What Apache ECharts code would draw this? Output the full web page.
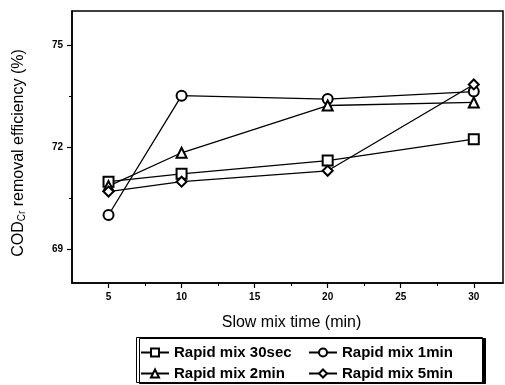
<!DOCTYPE html>
<html>
<head>
<meta charset="utf-8">
<script src="https://cdn.jsdelivr.net/npm/echarts@6/dist/echarts.min.js"></script>
<style>
  html, body { margin: 0; padding: 0; background: #fff; }
  #chart { width: 505px; height: 385px; }
</style>
</head>
<body>
<div id="chart"></div>
<script>
const chart = echarts.init(document.getElementById("chart"), null, { renderer: "canvas" });

const slowMix = [5, 10, 20, 30];
const mix30sec = [70.98, 71.21, 71.6, 72.23];
const mix1min = [70.0, 73.51, 73.41, 73.63];
const mix2min = [70.85, 71.83, 73.22, 73.31];
const mix5min = [70.69, 70.98, 71.3, 73.84];

const xLabels = [5, 10, 15, 20, 25, 30];
const xMinor = [7.5, 12.5, 17.5, 22.5, 27.5];
const yLabels = [69, 72, 75];
const yMinor = [70.5, 73.5];

const font = "Liberation Sans";

function pairs(ys) {
  return slowMix.map((x, i) => [x, ys[i]]);
}

function makeSeries(name, symbol, ys) {
  return {
    name: name,
    type: "line",
    data: pairs(ys),
    symbol: symbol,
    symbolSize: 10,
    showSymbol: true,
    lineStyle: { color: "#000", width: 1.3 },
    itemStyle: { color: "#000", borderColor: "#000", borderWidth: 1.3 },
    z: 3,
  };
}

function makeLegend(left, names) {
  return {
    left: left,
    top: 345,
    orient: "vertical",
    itemWidth: 28,
    itemHeight: 10,
    itemGap: 6,
    padding: 0,
    z: 6,
    textStyle: { fontFamily: font, fontWeight: "bold", fontSize: 15, color: "#000" },
    data: names,
  };
}

const option = {
  backgroundColor: "#fff",
  animation: false,
  grid: {
    left: 72,
    top: 11,
    right: 2,
    bottom: 102,
    show: true,
    borderColor: "#000",
    borderWidth: 1.5,
  },
  // legend frame
  graphic: [
    {
      type: "rect",
      left: 136,
      top: 337,
      z: 1,
      shape: { width: 346, height: 45 },
      style: {
        fill: "#fff",
        stroke: "#000",
        lineWidth: 1,
        shadowColor: "#000",
        shadowOffsetX: 3,
        shadowOffsetY: 1,
        shadowBlur: 0,
      },
    },
  ],
  legend: [
    makeLegend(140, ["Rapid mix 30sec", "Rapid mix 2min"]),
    makeLegend(308, ["Rapid mix 1min", "Rapid mix 5min"]),
  ],
  xAxis: [
    {
      type: "value",
      min: 2.5,
      max: 32,
      name: "Slow mix time (min)",
      nameLocation: "middle",
      nameGap: 32,
      nameTextStyle: { fontFamily: font, fontSize: 16, color: "#000", padding: [0, 0, 0, 8] },
      axisLine: { show: true, onZero: false, lineStyle: { color: "#000", width: 1.5 } },
      axisTick: { show: true, inside: false, length: 5, customValues: xLabels, lineStyle: { color: "#000", width: 1.2 } },
      axisLabel: { customValues: xLabels, fontFamily: font, fontWeight: "bold", fontSize: 10, color: "#000", margin: 9 },
      splitLine: { show: false },
    },
    {
      type: "value",
      min: 2.5,
      max: 32,
      position: "bottom",
      axisLine: { show: false },
      axisTick: { show: true, length: 3, customValues: xMinor, lineStyle: { color: "#000", width: 1 } },
      axisLabel: { show: false },
      splitLine: { show: false },
    },
  ],
  yAxis: [
    {
      type: "value",
      min: 68,
      max: 76,
      name: "COD{sub|Cr} removal efficiency (%)",
      nameLocation: "middle",
      nameGap: 45,
      nameTextStyle: {
        fontFamily: font,
        fontSize: 16,
        color: "#000",
        padding: [0, 12, 0, 0],
        rich: {
          sub: { fontFamily: font, fontSize: 10, color: "#000", verticalAlign: "bottom", padding: [7, 0, 0, 0] },
        },
      },
      axisLine: { show: true, onZero: false, lineStyle: { color: "#000", width: 1.5 } },
      axisTick: { show: true, inside: false, length: 5, customValues: yLabels, lineStyle: { color: "#000", width: 1.2 } },
      axisLabel: { customValues: yLabels, fontFamily: font, fontWeight: "bold", fontSize: 10, color: "#000", margin: 9 },
      splitLine: { show: false },
    },
    {
      type: "value",
      min: 68,
      max: 76,
      position: "left",
      axisLine: { show: false },
      axisTick: { show: true, length: 3, customValues: yMinor, lineStyle: { color: "#000", width: 1 } },
      axisLabel: { show: false },
      splitLine: { show: false },
    },
  ],
  series: [
    makeSeries("Rapid mix 30sec", "emptyRect", mix30sec),
    makeSeries("Rapid mix 1min", "emptyCircle", mix1min),
    makeSeries("Rapid mix 2min", "emptyTriangle", mix2min),
    makeSeries("Rapid mix 5min", "emptyDiamond", mix5min),
  ],
};

chart.setOption(option);

window.addEventListener("resize", function () {
  chart.resize();
});
</script>
</body>
</html>
